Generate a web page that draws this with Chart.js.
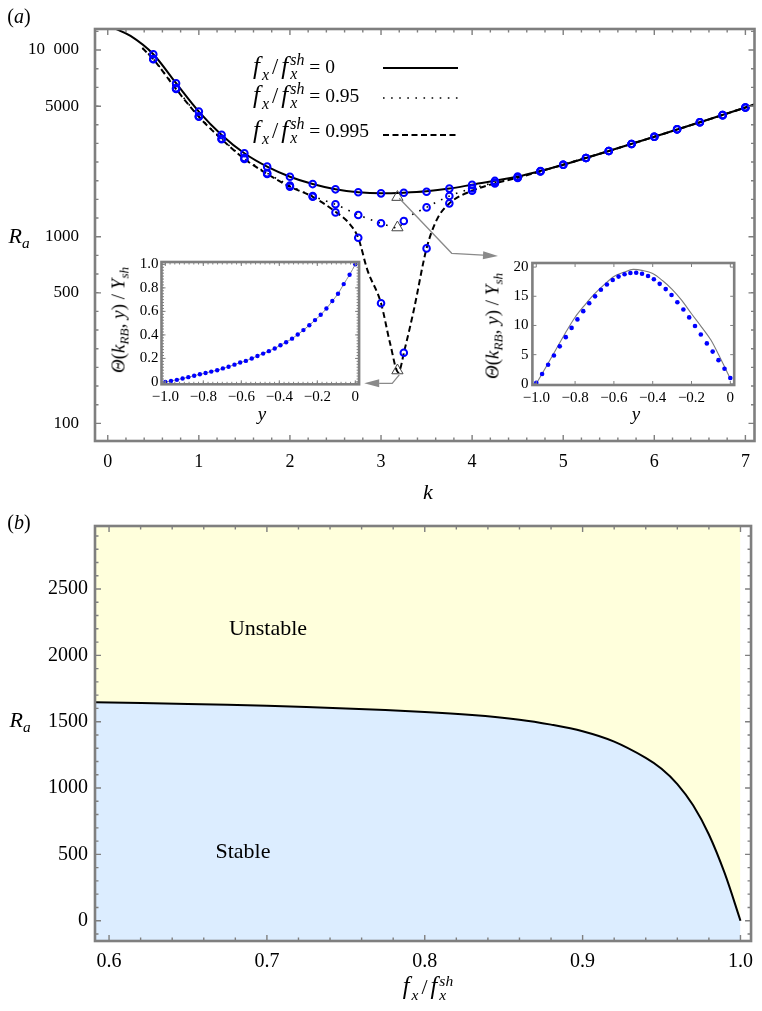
<!DOCTYPE html>
<html>
<head>
<meta charset="utf-8">
<script src="https://cdn.jsdelivr.net/npm/chart.js@4.4.1/dist/chart.umd.min.js"></script>
<style>
body { margin: 0; background: #fff; }
#wrap { position: relative; width: 762px; height: 1011px; font-family: "Liberation Serif", "Times New Roman", serif; color: #000; overflow: hidden; }
canvas { position: absolute; }
.t { position: absolute; white-space: nowrap; line-height: 1; transform: translate(-50%, -50%); }
.l { transform: translate(0, -50%); }
.rot { transform: translate(-50%, -50%) rotate(-90deg); }
sub { font-size: 0.7em; vertical-align: -0.3em; line-height: 0; }
.ss { display: inline-block; vertical-align: -0.36em; font-size: 0.82em; line-height: 0.9; font-style: italic; }
.ss span { display: block; }
.F { font-size: 1.28em; font-style: italic; margin-right: 2px; }
.sb { font-size: 0.82em; font-style: italic; vertical-align: -0.38em; line-height: 0; margin-right: 2px; }
.sl { font-size: 1.15em; margin: 0 3px 0 1px; }
</style>
</head>
<body>
<div id="wrap">
  <canvas id="top" width="762" height="500" style="left:0;top:0"></canvas>
  <canvas id="bot" width="762" height="480" style="left:0;top:500px"></canvas>
  <canvas id="in1" width="265" height="175" style="left:100px;top:250px"></canvas>
  <canvas id="in2" width="270" height="175" style="left:470px;top:250px"></canvas>

  <div class="t" style="left:19px;top:16px;font-size:20px">(<i>a</i>)</div>
  <div class="t" style="left:19px;top:236px;font-size:22px"><i>R</i><sub><i>a</i></sub></div>
  <div class="t" style="left:428px;top:492px;font-size:22px"><i>k</i></div>

  <div class="t l" style="left:253px;top:67px;font-size:19.5px"><span class="F">f</span><span class="sb">x</span><span class="sl">/</span><span class="F">f</span><span class="ss"><span>sh</span><span>x</span></span> = 0</div>
  <div class="t l" style="left:253px;top:96px;font-size:19.5px"><span class="F">f</span><span class="sb">x</span><span class="sl">/</span><span class="F">f</span><span class="ss"><span>sh</span><span>x</span></span> = 0.95</div>
  <div class="t l" style="left:253px;top:131px;font-size:19.5px"><span class="F">f</span><span class="sb">x</span><span class="sl">/</span><span class="F">f</span><span class="ss"><span>sh</span><span>x</span></span> = 0.995</div>

  <div class="t rot" style="left:118px;top:320px;font-size:19px"><i>Θ</i>(<i>k</i><sub><i>RB</i></sub>, <i>y</i>) / <i>Y</i><sub><i>sh</i></sub></div>
  <div class="t" style="left:262px;top:413px;font-size:19px"><i>y</i></div>
  <div class="t rot" style="left:492px;top:326px;font-size:19px"><i>Θ</i>(<i>k</i><sub><i>RB</i></sub>, <i>y</i>) / <i>Y</i><sub><i>sh</i></sub></div>
  <div class="t" style="left:636px;top:413px;font-size:19px"><i>y</i></div>

  <div class="t" style="left:19px;top:522px;font-size:20px">(<i>b</i>)</div>
  <div class="t" style="left:20px;top:720px;font-size:22px"><i>R</i><sub><i>a</i></sub></div>
  <div class="t" style="left:428px;top:988px;font-size:19px"><span class="F">f</span><span class="sb">x</span><span class="sl">/</span><span class="F">f</span><span class="ss"><span>sh</span><span>x</span></span></div>
  <div class="t" style="left:268px;top:628px;font-size:22px">Unstable</div>
  <div class="t" style="left:243px;top:851px;font-size:22px">Stable</div>
</div>

<script>
/* DATA: panel (a), critical Ra against k */
const K_LINE0 = [0, 0.1, 0.25, 0.5, 0.75, 1, 1.25, 1.5, 1.75, 2, 2.25, 2.5, 2.75, 3, 3.25, 3.5, 3.75, 4, 4.5, 5, 5.5, 6, 6.5, 7, 7.12];
const RA_LINE0 = [13400, 12900, 11900, 9500, 6640, 4680, 3510, 2800, 2373, 2095, 1914, 1794, 1729, 1707, 1720, 1750, 1810, 1900, 2100, 2430, 2880, 3430, 4100, 4920, 5150];

const K_LINE95 = [0.38, 0.5, 0.75, 1, 1.25, 1.5, 1.75, 2, 2.25, 2.5, 2.75, 3, 3.12, 3.19, 3.25, 3.5, 3.75, 4, 4.25, 4.5, 5, 5.5, 6, 6.5, 7, 7.12];
const RA_LINE95 = [10250, 8950, 6250, 4420, 3350, 2640, 2190, 1880, 1650, 1490, 1310, 1178, 1130, 1110, 1215, 1436, 1650, 1815, 1950, 2080, 2430, 2880, 3430, 4100, 4920, 5150];

const K_LINE995 = [0.38, 0.5, 0.75, 1, 1.25, 1.5, 1.75, 2, 2.25, 2.5, 2.65, 2.75, 2.85, 3, 3.1, 3.19, 3.26, 3.36, 3.5, 3.61, 3.75, 4, 4.25, 4.5, 5, 5.5, 6, 6.5, 7, 7.12];
const RA_LINE995 = [10250, 8920, 6180, 4390, 3330, 2610, 2170, 1853, 1637, 1361, 1180, 985, 664, 440, 268, 188, 250, 405, 866, 1228, 1509, 1764, 1930, 2070, 2430, 2880, 3430, 4100, 4920, 5150];

const K_MARKS = [0.5, 0.75, 1, 1.25, 1.5, 1.75, 2, 2.25, 2.5, 2.75, 3, 3.25, 3.5, 3.75, 4, 4.25, 4.5, 4.75, 5, 5.25, 5.5, 5.75, 6, 6.25, 6.5, 6.75, 7];
const RA0_MARKS = [9500, 6640, 4680, 3510, 2800, 2373, 2095, 1914, 1794, 1729, 1707, 1720, 1742, 1810, 1900, 1990, 2100, 2250, 2430, 2640, 2880, 3140, 3430, 3760, 4100, 4480, 4920];
const RA95_MARKS = [8950, 6250, 4420, 3350, 2640, 2190, 1880, 1650, 1492, 1307, 1180, 1215, 1436, 1652, 1815, 1950, 2080, 2240, 2430, 2640, 2880, 3140, 3430, 3760, 4100, 4480, 4920];
const RA995_MARKS = [8920, 6180, 4390, 3330, 2610, 2170, 1853, 1637, 1350, 988, 440, 239, 866, 1509, 1764, 1930, 2065, 2235, 2430, 2640, 2880, 3140, 3430, 3760, 4100, 4480, 4920];

const TRI_K = [3.18, 3.18, 3.18];
const TRI_RA = [1630, 1120, 192];

const K_TICKS = [0, 1, 2, 3, 4, 5, 6, 7];
const K_TICK_LABELS = ["0", "1", "2", "3", "4", "5", "6", "7"];
const RA_TICKS = [100, 500, 1000, 5000, 10000];
const RA_TICK_LABELS = ["100", "500", "1000", "5000", "10\u2002000"];

/* insets: Theta(k_RB, y)/Y_sh */
const Y_DOTS = [-1, -0.970, -0.939, -0.909, -0.879, -0.848, -0.818, -0.788, -0.758, -0.727, -0.697, -0.667, -0.636, -0.606, -0.576, -0.545, -0.515, -0.485, -0.455, -0.424, -0.394, -0.364, -0.333, -0.303, -0.273, -0.242, -0.212, -0.182, -0.152, -0.121, -0.091, -0.061, -0.030, 0];
const THETA_LEFT = [0, 0.009, 0.018, 0.029, 0.041, 0.053, 0.065, 0.076, 0.088, 0.100, 0.115, 0.129, 0.147, 0.165, 0.179, 0.200, 0.221, 0.241, 0.262, 0.285, 0.312, 0.338, 0.368, 0.403, 0.441, 0.482, 0.526, 0.571, 0.624, 0.688, 0.750, 0.832, 0.912, 1.0];
const THETA_RIGHT = [0.17, 1.69, 3.27, 4.85, 6.42, 8.0, 9.58, 11.04, 12.45, 13.80, 14.99, 16.11, 17.01, 17.80, 18.37, 18.76, 18.99, 19.04, 18.87, 18.48, 17.92, 17.13, 16.23, 15.21, 13.97, 12.73, 11.38, 9.92, 8.45, 6.93, 5.52, 4.06, 2.59, 1.01];
const Y_CURVE = [-1, -0.95, -0.9, -0.85, -0.8, -0.75, -0.7, -0.65, -0.6, -0.55, -0.5, -0.45, -0.4, -0.35, -0.3, -0.25, -0.2, -0.15, -0.1, -0.05, 0];
const THETA_CURVE = [0, 2.9, 5.8, 8.7, 11.4, 13.5, 15.4, 17.0, 18.4, 19.1, 19.6, 19.4, 18.9, 17.7, 16.2, 14.3, 12.0, 9.8, 7.5, 4.3, 0.9];

const Y_TICKS = [-1, -0.8, -0.6, -0.4, -0.2, 0];
const Y_TICK_LABELS = ["\u22121.0", "\u22120.8", "\u22120.6", "\u22120.4", "\u22120.2", "0"];
const TL_TICKS = [0, 0.2, 0.4, 0.6, 0.8, 1.0];
const TL_TICK_LABELS = ["0", "0.2", "0.4", "0.6", "0.8", "1.0"];
const TR_TICKS = [0, 5, 10, 15, 20];
const TR_TICK_LABELS = ["0", "5", "10", "15", "20"];

/* DATA: panel (b), neutral curve */
const F_RATIO = [0.591, 0.65, 0.70, 0.75, 0.80, 0.83, 0.86, 0.88, 0.90, 0.92, 0.94, 0.95, 0.96, 0.97, 0.98, 0.99, 1.0];
const RA_NEUTRAL = [1646, 1634, 1620, 1600, 1573, 1550, 1515, 1478, 1428, 1350, 1228, 1145, 1030, 870, 650, 358, 0];
const F_TICKS = [0.6, 0.7, 0.8, 0.9, 1.0];
const F_TICK_LABELS = ["0.6", "0.7", "0.8", "0.9", "1.0"];
const RB_TICKS = [0, 500, 1000, 1500, 2000, 2500];
const RB_TICK_LABELS = ["0", "500", "1000", "1500", "2000", "2500"];

/* arrows from the triangles to the insets (data coords) */
const ARROWS = [
  { k: [3.2, 3.776, 4.284], ra: [1606, 815, 788] },
  { k: [3.2, 3.123, 2.815], ra: [182, 164, 164] }
];

/* HELPERS */
const el = (id) => document.getElementById(id);
const FONT = "'Liberation Serif', 'Times New Roman', serif";
const BLUE = "#0000ff";
const pts = (xs, ys) => xs.map((v, i) => ({ x: v, y: ys[i] }));
function steps(a, b, s) {
  const out = [];
  for (let v = a; v <= b + 1e-9; v += s) out.push(+v.toFixed(6));
  return out;
}

function axis(min, max, ticks, labels, size, pad, fitKey, fitVal, type) {
  return {
    type: type || "linear", min, max,
    grid: { display: false, drawTicks: false },
    border: { display: false },
    afterBuildTicks: (s) => { s.ticks = ticks.map(v => ({ value: v })); },
    afterFit: (s) => { s[fitKey] = fitVal; },
    ticks: {
      padding: pad, color: "#000", font: { family: FONT, size },
      maxRotation: 0, autoSkip: false,
      callback: (v, i) => labels[i]
    }
  };
}

/* frame with inward ticks on all four sides */
function frameTicks(cfg) {
  return {
    id: "frameTicks",
    afterDatasetsDraw(chart) {
      const { ctx, chartArea: a, scales: { x, y } } = chart;
      ctx.save();
      ctx.strokeStyle = "#7f7f7f";
      ctx.lineWidth = cfg.tickWidth;
      ctx.beginPath();
      const onX = (vals, len) => vals.forEach(v => {
        const p = x.getPixelForValue(v);
        if (p < a.left - 0.5 || p > a.right + 0.5) return;
        ctx.moveTo(p, a.bottom); ctx.lineTo(p, a.bottom - len);
        ctx.moveTo(p, a.top); ctx.lineTo(p, a.top + len);
      });
      const onY = (vals, len) => vals.forEach(v => {
        const p = y.getPixelForValue(v);
        if (p < a.top - 0.5 || p > a.bottom + 0.5) return;
        ctx.moveTo(a.left, p); ctx.lineTo(a.left + len, p);
        ctx.moveTo(a.right, p); ctx.lineTo(a.right - len, p);
      });
      onX(cfg.xMajor, cfg.major); onX(cfg.xMinor, cfg.minor);
      onY(cfg.yMajor, cfg.major); onY(cfg.yMinor, cfg.minor);
      ctx.stroke();
      ctx.lineWidth = cfg.frameWidth;
      ctx.strokeRect(a.left, a.top, a.right - a.left, a.bottom - a.top);
      ctx.restore();
    }
  };
}

const BASE = {
  responsive: false,
  animation: false,
  events: [],
  plugins: { legend: { display: false }, tooltip: { enabled: false } }
};

/* PANEL (a) */
const logMinor = steps(1.9, 4.1, 0.1).map(e => Math.pow(10, e));

const arrowPlugin = {
  id: "arrows",
  afterDatasetsDraw(chart) {
    const { ctx, scales: { x, y } } = chart;
    ctx.save();
    ctx.strokeStyle = "#8a8a8a";
    ctx.fillStyle = "#8a8a8a";
    ctx.lineWidth = 1.3;
    ARROWS.forEach(a => {
      const p = a.k.map((k, i) => [x.getPixelForValue(k), y.getPixelForValue(a.ra[i])]);
      const n = p.length;
      const [tx, ty] = p[n - 1];
      const [px, py] = p[n - 2];
      const ang = Math.atan2(ty - py, tx - px);
      const L = 15, W = 4;
      const bx = tx - L * Math.cos(ang), by = ty - L * Math.sin(ang);
      ctx.beginPath();
      ctx.moveTo(p[0][0], p[0][1]);
      for (let i = 1; i < n - 1; i++) ctx.lineTo(p[i][0], p[i][1]);
      ctx.lineTo(bx, by);
      ctx.stroke();
      ctx.beginPath();
      ctx.moveTo(tx, ty);
      ctx.lineTo(bx - W * Math.sin(ang), by + W * Math.cos(ang));
      ctx.lineTo(bx + W * Math.sin(ang), by - W * Math.cos(ang));
      ctx.closePath();
      ctx.fill();
    });
    ctx.restore();
  }
};

const LINE_STYLES = [
  { width: 2, dash: [] },
  { width: 1.6, dash: [1.6, 6.5] },
  { width: 2, dash: [6, 3.5] }
];
const LEG_Y = [68, 98, 135];
const legendPlugin = {
  id: "legendSamples",
  afterDatasetsDraw(chart) {
    const ctx = chart.ctx;
    ctx.save();
    ctx.strokeStyle = "#000";
    LINE_STYLES.forEach((s, i) => {
      ctx.lineWidth = s.width;
      ctx.setLineDash(s.dash);
      ctx.beginPath();
      ctx.moveTo(383, LEG_Y[i]);
      ctx.lineTo(458, LEG_Y[i]);
      ctx.stroke();
    });
    ctx.restore();
  }
};

const marks = (ys) => ({
  data: pts(K_MARKS, ys), pointRadius: 3.3, pointBorderWidth: 2,
  pointBorderColor: BLUE, pointBackgroundColor: "rgba(0,0,0,0)", order: 1
});
const curve = (xs, ys, s) => ({
  data: pts(xs, ys), showLine: true, borderColor: "#000", borderWidth: s.width,
  borderDash: s.dash, pointRadius: 0, cubicInterpolationMode: "monotone", order: 2
});

new Chart(el("top"), {
  type: "scatter",
  data: {
    datasets: [
      { data: pts(TRI_K, TRI_RA), pointStyle: "triangle", pointRadius: 6.5, pointBorderWidth: 1,
        pointBorderColor: "#444", pointBackgroundColor: "rgba(0,0,0,0)", order: 0 },
      marks(RA0_MARKS), marks(RA95_MARKS), marks(RA995_MARKS),
      curve(K_LINE0, RA_LINE0, LINE_STYLES[0]),
      curve(K_LINE95, RA_LINE95, LINE_STYLES[1]),
      curve(K_LINE995, RA_LINE995, LINE_STYLES[2])
    ]
  },
  options: {
    ...BASE,
    layout: { padding: { top: 29, right: 1, left: 0, bottom: 0 } },
    scales: {
      x: axis(-0.14, 7.1, K_TICKS, K_TICK_LABELS, 18, 10, "height", 59),
      y: axis(80.5, 12960, RA_TICKS, RA_TICK_LABELS, 17, 16, "width", 95, "logarithmic")
    }
  },
  plugins: [frameTicks({
    xMajor: K_TICKS, xMinor: steps(0, 7, 0.2), yMajor: RA_TICKS, yMinor: logMinor,
    major: 6, minor: 3.5, tickWidth: 1.4, frameWidth: 2.6
  }), legendPlugin, arrowPlugin]
});

/* INSETS */
new Chart(el("in1"), {
  type: "scatter",
  data: {
    datasets: [{
      data: pts(Y_DOTS, THETA_LEFT), showLine: true, borderColor: "#8a8a8a", borderWidth: 1,
      cubicInterpolationMode: "monotone", pointRadius: 2.2, pointBorderWidth: 0, pointBackgroundColor: BLUE
    }]
  },
  options: {
    ...BASE,
    layout: { padding: { top: 11.6, right: 5.9, left: 0, bottom: 0 } },
    scales: {
      x: axis(-1.02, 0.02, Y_TICKS, Y_TICK_LABELS, 15, 4, "height", 40.7),
      y: axis(-0.02, 1.02, TL_TICKS, TL_TICK_LABELS, 15, 3, "width", 61.5)
    }
  },
  plugins: [frameTicks({
    xMajor: Y_TICKS, xMinor: steps(-1, 0, 0.025), yMajor: TL_TICKS, yMinor: steps(0, 1, 0.025),
    major: 4, minor: 2.5, tickWidth: 1, frameWidth: 2.6
  })]
});

new Chart(el("in2"), {
  type: "scatter",
  data: {
    datasets: [
      { data: pts(Y_DOTS, THETA_RIGHT), pointRadius: 2.3, pointBorderWidth: 0, pointBackgroundColor: BLUE, order: 0 },
      { data: pts(Y_CURVE, THETA_CURVE), showLine: true, borderColor: "#7a7a7a", borderWidth: 1.1,
        cubicInterpolationMode: "monotone", pointRadius: 0, order: 1 }
    ]
  },
  options: {
    ...BASE,
    layout: { padding: { top: 11.5, right: 5.8, left: 0, bottom: 0 } },
    scales: {
      x: axis(-1.02, 0.02, Y_TICKS, Y_TICK_LABELS, 15, 4, "height", 40),
      y: axis(-0.2, 20.7, TR_TICKS, TR_TICK_LABELS, 15, 4, "width", 62.4)
    }
  },
  plugins: [frameTicks({
    xMajor: Y_TICKS, xMinor: [], yMajor: TR_TICKS, yMinor: [],
    major: 4, minor: 2.5, tickWidth: 1, frameWidth: 2.6
  })]
});

/* PANEL (b) */
new Chart(el("bot"), {
  type: "scatter",
  data: {
    datasets: [
      { data: pts(F_RATIO, RA_NEUTRAL), showLine: true, borderColor: "#000", borderWidth: 2,
        tension: 0.35, pointRadius: 0, fill: "start", backgroundColor: "#dcedff", order: 0 },
      { data: pts(F_RATIO, RA_NEUTRAL), showLine: true, borderWidth: 0, borderColor: "rgba(0,0,0,0)",
        tension: 0.35, pointRadius: 0, fill: "end", backgroundColor: "#ffffdc", order: 1 }
    ]
  },
  options: {
    ...BASE,
    layout: { padding: { top: 26, right: 2, left: 0, bottom: 0 } },
    scales: {
      x: axis(0.5911, 1.0067, F_TICKS, F_TICK_LABELS, 20, 9, "height", 39),
      y: axis(-153, 2975, RB_TICKS, RB_TICK_LABELS, 20, 7, "width", 95)
    }
  },
  plugins: [frameTicks({
    xMajor: F_TICKS, xMinor: steps(0.6, 1.0, 0.02), yMajor: RB_TICKS, yMinor: steps(-100, 2900, 100),
    major: 6, minor: 3.5, tickWidth: 1.4, frameWidth: 2.6
  })]
});
</script>
</body>
</html>
